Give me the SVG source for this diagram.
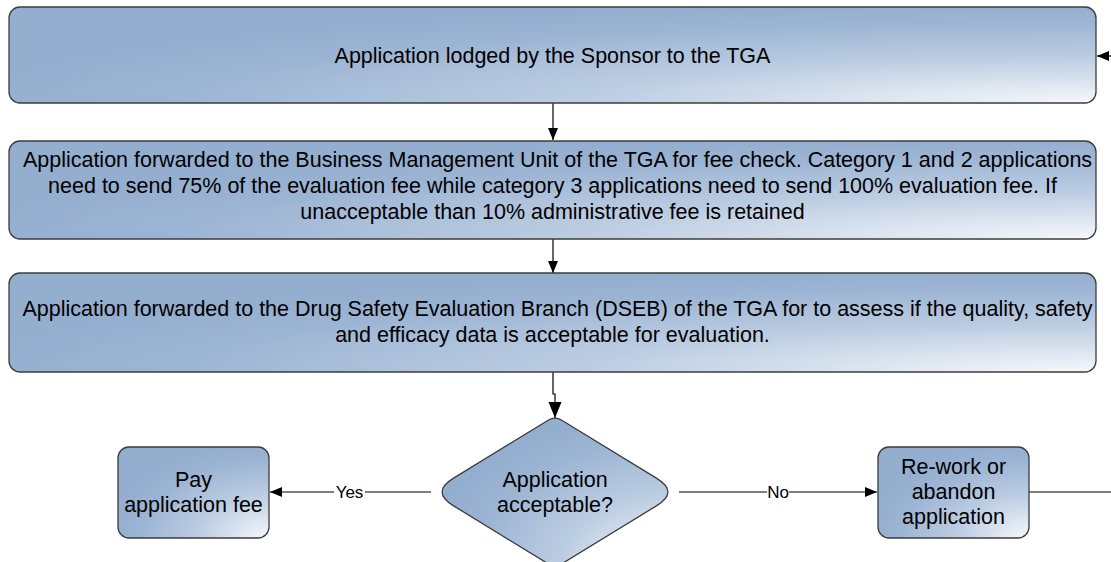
<svg xmlns="http://www.w3.org/2000/svg" width="1111" height="562" viewBox="0 0 1111 562">
<defs>
<radialGradient id="g" cx="1" cy="1" r="1.05" fx="1" fy="1" gradientUnits="objectBoundingBox">
<stop offset="0" stop-color="#F6F8FB"/>
<stop offset="0.45" stop-color="#BCCDE2"/>
<stop offset="0.8" stop-color="#9DB5D4"/>
<stop offset="1" stop-color="#94AECF"/>
</radialGradient>
<marker id="a" markerWidth="12" markerHeight="11" refX="12" refY="5.5" orient="auto" markerUnits="userSpaceOnUse">
<path d="M0,0.5 L12,5.5 L0,10.5 Z" fill="#000"/>
</marker>
<marker id="b" markerWidth="16" markerHeight="14" refX="16" refY="7" orient="auto" markerUnits="userSpaceOnUse">
<path d="M0,0.5 L16,7 L0,13.5 Z" fill="#000"/>
</marker>
</defs>
<style>
.s{fill:url(#g);stroke:#3c3c3c;stroke-width:1.3}
.t{font-family:"Liberation Sans",Arial,sans-serif;font-size:21.5px;fill:#000;text-anchor:middle}
.l{font-family:"Liberation Sans",Arial,sans-serif;font-size:17px;fill:#000;text-anchor:middle}
.c{fill:none;stroke:#000;stroke-width:1.2}
</style>
<rect width="1111" height="562" fill="#fff"/>
<g id="connectors">
<path class="c" d="M1111,56 H1097" marker-end="url(#a)"/>
<path class="c" d="M553,103 V140" marker-end="url(#a)"/>
<path class="c" d="M553,239 V273" marker-end="url(#a)"/>
<path class="c" d="M553,372 V394 H555 V418" marker-end="url(#b)"/>
<path class="c" d="M431,492 H270" marker-end="url(#a)"/>
<rect x="334" y="482" width="31" height="20" fill="#fff"/>
<text class="l" x="349.5" y="498">Yes</text>
<path class="c" d="M679,492 H877" marker-end="url(#a)"/>
<rect x="767" y="482" width="22" height="20" fill="#fff"/>
<text class="l" x="778" y="498">No</text>
<path class="c" d="M1029,492 H1111"/>
</g>
<g id="n1">
<rect class="s" x="9" y="7" width="1087" height="96" rx="11"/>
<text class="t" x="552.5" y="63">Application lodged by the Sponsor to the TGA</text>
</g>
<g id="n2">
<rect class="s" x="9" y="141" width="1087" height="98" rx="11"/>
<text class="t" x="557.5" y="167">Application forwarded to the Business Management Unit of the TGA for fee check. Category 1 and 2 applications</text>
<text class="t" x="552.5" y="193">need to send 75% of the evaluation fee while category 3 applications need to send 100% evaluation fee. If</text>
<text class="t" x="552.5" y="219">unacceptable than 10% administrative fee is retained</text>
</g>
<g id="n3">
<rect class="s" x="9" y="273" width="1087" height="99" rx="11"/>
<text class="t" x="557.5" y="316">Application forwarded to the Drug Safety Evaluation Branch (DSEB) of the TGA for to assess if the quality, safety</text>
<text class="t" x="552.5" y="342">and efficacy data is acceptable for evaluation.</text>
</g>
<g id="n4">
<path class="s" d="M561.8,420.2 L656.8,478.4 Q679,492 656.8,505.6 L561.8,563.8 Q555,568 548.2,563.8 L453.2,505.6 Q431,492 453.2,478.4 L548.2,420.2 Q555,416 561.8,420.2 Z"/>
<text class="t" x="555" y="487">Application</text>
<text class="t" x="555" y="512">acceptable?</text>
</g>
<g id="n5">
<rect class="s" x="118" y="447" width="151" height="91" rx="11"/>
<text class="t" x="193.5" y="487">Pay</text>
<text class="t" x="193.5" y="512">application fee</text>
</g>
<g id="n6">
<rect class="s" x="878" y="447" width="151" height="91" rx="11"/>
<text class="t" x="953.5" y="474">Re-work or</text>
<text class="t" x="953.5" y="499">abandon</text>
<text class="t" x="953.5" y="524">application</text>
</g>
</svg>
